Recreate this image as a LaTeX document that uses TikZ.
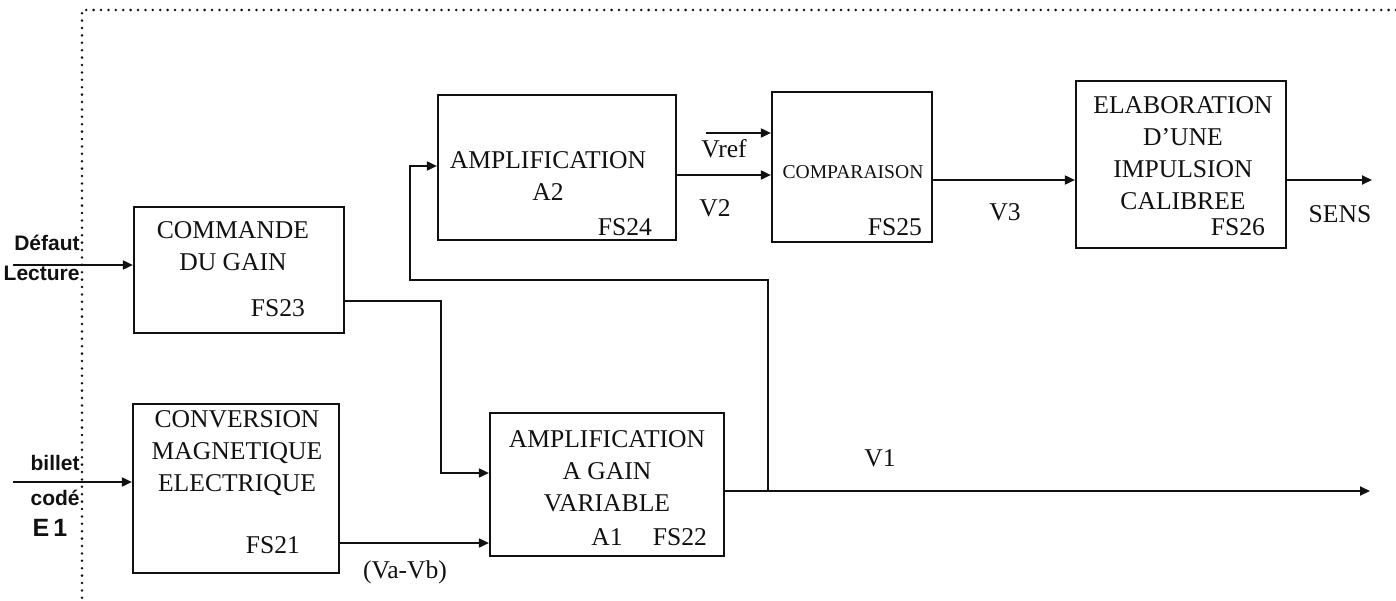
\documentclass[tikz,border=0pt]{standalone}
\usepackage{fontspec}
\setmainfont{Liberation Serif}
\newfontfamily\entfont{Liberation Sans}
\usetikzlibrary{arrows.meta,positioning}
\definecolor{Ink}{HTML}{111111}

\tikzset{
  bloc/.style={draw=Ink,line width=1.1pt,inner sep=0pt},
  fleche/.style={draw=Ink,line width=0.9pt,-{Triangle[length=5pt,width=4.5pt]}},
  fil/.style={draw=Ink,line width=0.9pt},
  txt/.style={font=\fontsize{12.8}{16}\selectfont,align=center,inner sep=0pt,text=Ink},
  ent/.style={font=\entfont\bfseries\fontsize{10.5}{12}\selectfont,inner sep=0pt,text=Ink},
}

\begin{document}
\begin{tikzpicture}[x=0.5pt,y=-0.5pt]
  \useasboundingbox (0,0) rectangle (1396,600);
  \draw[Ink,line width=1.4pt,line cap=round,dash pattern=on 0pt off 3.7pt] (1396,10) -- (82,10) -- (82,600);
  \foreach \n/\cx/\cy/\w/\h in {
    cmd/239/270/210/126,
    conv/236/488.5/206/169,
    ampv/607/484.5/234/143,
    ampa/557/167.5/238/145,
    comp/852/167/160/150,
    elab/1181/164.5/210/167} {
    \node[bloc,minimum width=\w*0.5pt,minimum height=\h*0.5pt] (\n) at (\cx,\cy) {};
  }
  \node[txt] (tcmd) at (233,246) {COMMANDE\\DU GAIN};
  \node[txt] (fcmd) at (278,308) {FS23};
  \node[txt] (tconv) at (237,453.5) {CONVERSION\\MAGNETIQUE\\ELECTRIQUE};
  \node[txt] (fconv) at (273,545) {FS21};
  \node[txt] (tampv) at (607,471.5) {AMPLIFICATION\\A GAIN\\VARIABLE};
  \node[txt] (aampv) at (607,537) {A1};
  \node[txt] (fampv) at (680,537) {FS22};
  \node[txt] (tampa) at (548,176) {AMPLIFICATION\\A2};
  \node[txt] (fampa) at (625,227) {FS24};
  \node[txt,font=\fontsize{9.8}{12}\selectfont] (tcomp) at (853,172) {COMPARAISON};
  \node[txt] (fcomp) at (895,227) {FS25};
  \node[txt] (telab) at (1183,153) {ELABORATION\\D'UNE\\IMPULSION\\CALIBREE};
  \node[txt] (felab) at (1238,227) {FS26};

  \coordinate (inD) at (13,265);
  \draw[fleche] (inD) -- (inD -| cmd.west);
  \node[ent,anchor=east] (lDef) at (80,243) {Défaut};
  \node[ent,anchor=east] (lLec) at (80,273) {Lecture};
  \coordinate (inB) at (13,482);
  \draw[fleche] (inB) -- (inB -| conv.west);
  \node[ent,anchor=east] (lBil) at (80,463) {billet};
  \node[ent,anchor=east] (lCod) at (80,498) {codé};
  \node[ent,font=\entfont\bfseries\fontsize{12.5}{14}\selectfont] (lE) at (50,528) {E\,1};

  \coordinate (kg) at (441,301);
  \coordinate (ka) at (441,473);
  \draw[fleche] (cmd.east |- kg) -- (kg) -- (ka) -- (ampv.west |- ka);
  \coordinate (vab) at (420,543);
  \draw[fleche] (conv.east |- vab) -- (ampv.west |- vab);
  \node[txt] (lVab) at (405,572) {(Va-Vb)};

  \coordinate (nv1) at (768,491);
  \coordinate (sv1) at (1370,491);
  \coordinate (kr) at (410,280);
  \coordinate (ke) at (410,166);
  \draw[fleche] (ampv.east |- nv1) -- (sv1);
  \draw[fleche] (nv1) |- (kr) -- (ke) -- (ampa.west |- ke);
  \node[txt] (lV1) at (880,458) {V1};

  \coordinate (v2) at (720,175);
  \draw[fleche] (ampa.east |- v2) -- (comp.west |- v2);
  \node[txt] (lV2) at (715,208) {V2};
  \coordinate (vref) at (706,133);
  \draw[fleche] (vref) -- (vref -| comp.west);
  \node[txt] (lVref) at (724,149) {Vref};
  \coordinate (v3) at (1000,180);
  \draw[fleche] (comp.east |- v3) -- (elab.west |- v3);
  \node[txt] (lV3) at (1005,212) {V3};
  \coordinate (sens) at (1372,180);
  \draw[fleche] (elab.east |- sens) -- (sens);
  \node[txt] (lSens) at (1340,214) {SENS};
\end{tikzpicture}
\end{document}
